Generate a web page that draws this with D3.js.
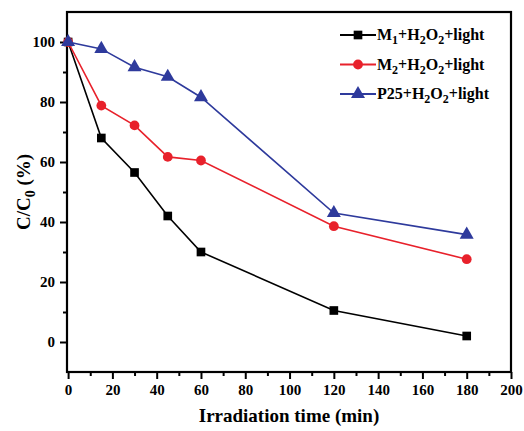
<!DOCTYPE html>
<html>
<head>
<meta charset="utf-8">
<script src="https://cdn.jsdelivr.net/npm/d3@7"></script>
<style>
  body { margin: 0; background: #fff; }
</style>
</head>
<body>
<div class="chart"></div>
<script>
// data
const times = [0, 15, 30, 45, 60, 120, 180];
const m1Values = [100, 68, 56.5, 42, 30, 10.5, 2];
const m2Values = [100, 78.8, 72.2, 61.7, 60.5, 38.6, 27.6];
const p25Values = [100, 97.7, 91.6, 88.4, 81.6, 43, 35.8];
const xTicks = [0, 20, 40, 60, 80, 100, 120, 140, 160, 180, 200];
const yTicks = [0, 20, 40, 60, 80, 100];

const series = [
  {sub: "1", vals: m1Values, color: "#000000", shape: d3.symbolSquare},
  {sub: "2", vals: m2Values, color: "#e8212b", shape: d3.symbolCircle},
  {sub: null, vals: p25Values, color: "#2e3a9c", shape: d3.symbolTriangle}
];

const FONT = "font-family: 'Liberation Serif' !important; font-weight: bold !important";

const W = 524, H = 431;
const margin = ({top: 12, right: 13, bottom: 59, left: 67});
const w = W - margin.left - margin.right,
      h = H - margin.top - margin.bottom;

const svg = d3.select(".chart")
  .append("svg")
  .attr("width", W)
  .attr("height", H);

const g = svg.append("g")
  .attr("transform", `translate(${margin.left},${margin.top})`);

const xScale = d3.scaleLinear().domain([-0.5, 200]).range([0, w]);
const yScale = d3.scaleLinear().domain([-10, 110]).range([h, 0]);

// minor ticks first
g.append("g")
  .attr("transform", `translate(0,${h})`)
  .call(d3.axisBottom(xScale).tickValues(d3.range(10, 200, 20)).tickSize(4).tickFormat(""))
  .call(a => a.select(".domain").remove())
  .selectAll("line").attr("stroke-width", 2);

g.append("g")
  .call(d3.axisLeft(yScale).tickValues(d3.range(10, 110, 20)).tickSize(4).tickFormat(""))
  .call(a => a.select(".domain").remove())
  .selectAll("line").attr("stroke-width", 2);

// major ticks
const xAxis = g.append("g")
  .attr("transform", `translate(0,${h})`)
  .call(d3.axisBottom(xScale).tickValues(xTicks).tickSize(7).tickPadding(5))
  .attr("font-size", 15);
xAxis.select(".domain").remove();
xAxis.selectAll("line").attr("stroke-width", 2);
xAxis.selectAll("text").attr("fill", "#000").attr("style", FONT);

const yAxis = g.append("g")
  .call(d3.axisLeft(yScale).tickValues(yTicks).tickSize(7).tickPadding(5))
  .attr("font-size", 15);
yAxis.select(".domain").remove();
yAxis.selectAll("line").attr("stroke-width", 2);
yAxis.selectAll("text").attr("fill", "#000").attr("style", FONT);

// frame
g.append("rect")
  .attr("x", 0).attr("y", 0)
  .attr("width", w).attr("height", h)
  .attr("fill", "none")
  .attr("stroke", "#000")
  .attr("stroke-width", 2.2);

// lines + markers
const line = d3.line()
  .x((d, i) => xScale(times[i]))
  .y(d => yScale(d));

series.forEach(s => {
  g.append("path")
    .datum(s.vals)
    .attr("fill", "none")
    .attr("stroke", s.color)
    .attr("stroke-width", 1.6)
    .attr("d", line);

  g.selectAll(null)
    .data(s.vals)
    .enter()
    .append("path")
    .attr("transform", (d, i) => `translate(${xScale(times[i])},${yScale(d)})`)
    .attr("d", d3.symbol().type(s.shape).size(s.shape === d3.symbolTriangle ? 85 : 75))
    .attr("fill", s.color);
});

// legend
const legend = g.append("g");
series.forEach((s, i) => {
  const ly = 23 + i * 29.5;
  const lx = 273;
  legend.append("line")
    .attr("x1", lx).attr("x2", lx + 36)
    .attr("y1", ly).attr("y2", ly)
    .attr("stroke", s.color).attr("stroke-width", 1.8);
  legend.append("path")
    .attr("transform", `translate(${lx + 18},${ly})`)
    .attr("d", d3.symbol().type(s.shape).size(s.shape === d3.symbolTriangle ? 85 : 75))
    .attr("fill", s.color);
  const t = legend.append("text")
    .attr("x", lx + 37).attr("y", ly + 5)
    .attr("font-size", 16).attr("fill", "#000").attr("style", FONT);
  if (s.sub) {
    t.append("tspan").text("M");
    t.append("tspan").attr("font-size", 12).attr("dy", 4).text(s.sub);
    t.append("tspan").attr("dy", -4).text("+H");
  } else {
    t.append("tspan").text("P25+H");
  }
  t.append("tspan").attr("font-size", 12).attr("dy", 4).text("2");
  t.append("tspan").attr("dy", -4).text("O");
  t.append("tspan").attr("font-size", 12).attr("dy", 4).text("2");
  t.append("tspan").attr("dy", -4).text("+light");
});

// axis titles
svg.append("text")
  .attr("x", margin.left + w / 2)
  .attr("y", 422)
  .attr("text-anchor", "middle")
  .attr("font-size", 19)
  .attr("style", FONT)
  .text("Irradiation time (min)");

const yt = svg.append("text")
  .attr("transform", `translate(30,${margin.top + yScale(50)}) rotate(-90)`)
  .attr("text-anchor", "middle")
  .attr("font-size", 19)
  .attr("style", FONT);
yt.append("tspan").text("C/C");
yt.append("tspan").attr("font-size", 14).attr("dy", 5).text("0");
yt.append("tspan").attr("dy", -5).text(" (%)");
</script>
</body>
</html>
